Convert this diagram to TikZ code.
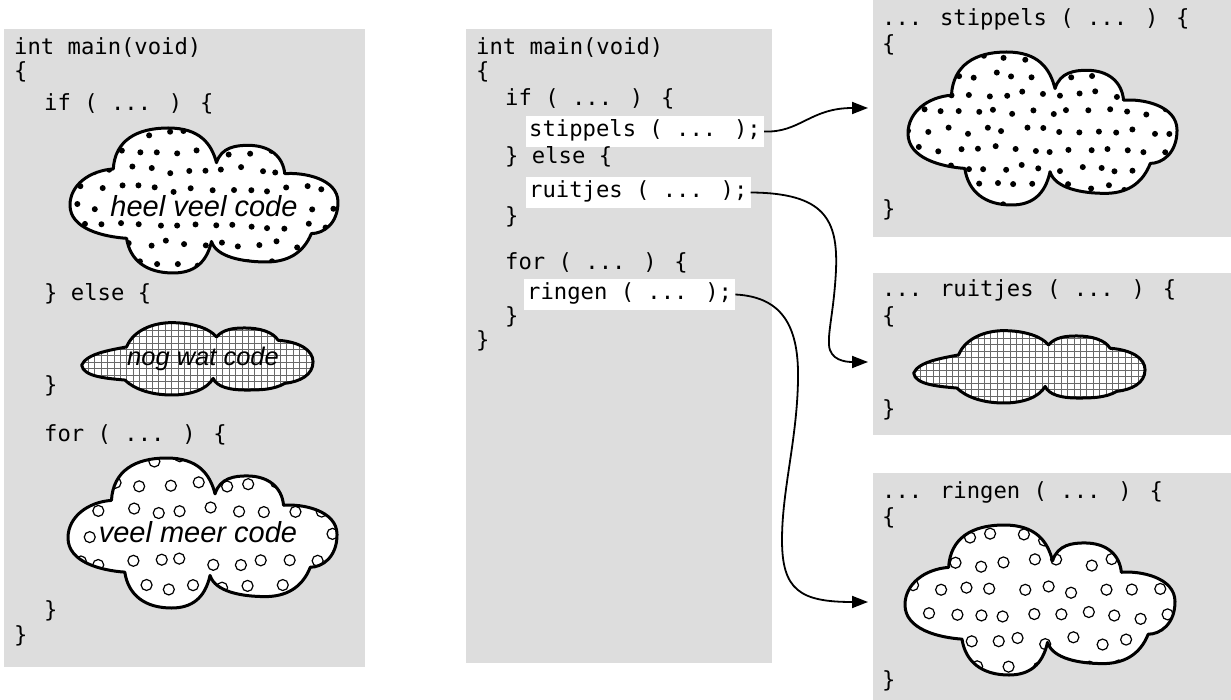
\documentclass[tikz,border=0pt]{standalone}
\usepackage{fontspec}
\newfontfamily\codefamily{DejaVu Sans Mono}
\newfontfamily\notefamily{Liberation Sans}
\usetikzlibrary{arrows.meta}

\definecolor{panelgray}{RGB}{221,221,221}
\definecolor{meshgray}{RGB}{105,105,105}

\newcommand\codesize{\codefamily\fontsize{22.2pt}{24pt}\selectfont}

% cloud outlines in local units (origin = top-left of the bounding box)
\newcommand\bigcloud{(130,130) .. controls (135,40) and (200,0) .. (295,0)
  .. controls (390,0) and (425,50) .. (440,110)
  .. controls (455,60) and (500,55) .. (535,55)
  .. controls (600,55) and (640,90) .. (645,145)
  .. controls (700,140) and (805,160) .. (805,235)
  .. controls (805,305) and (760,335) .. (725,335)
  .. controls (700,400) and (650,425) .. (590,425)
  .. controls (520,425) and (440,410) .. (425,360)
  .. controls (410,430) and (370,460) .. (310,460)
  .. controls (230,460) and (180,420) .. (170,350)
  .. controls (100,345) and (0,320) .. (0,245)
  .. controls (0,180) and (60,135) .. (130,130) -- cycle}
\newcommand\flatcloud{(5,130) .. controls (20,95) and (90,85) .. (140,75)
  .. controls (160,25) and (220,2) .. (275,2)
  .. controls (340,2) and (390,20) .. (410,45)
  .. controls (430,22) and (460,18) .. (495,18)
  .. controls (540,18) and (580,30) .. (595,55)
  .. controls (660,60) and (700,85) .. (700,120)
  .. controls (700,160) and (660,180) .. (615,185)
  .. controls (580,205) and (540,205) .. (495,205)
  .. controls (450,205) and (410,195) .. (400,170)
  .. controls (380,205) and (330,220) .. (275,220)
  .. controls (210,220) and (160,200) .. (135,175)
  .. controls (80,170) and (10,165) .. (5,130) -- cycle}

\tikzset{
  panel/.style={fill=panelgray, draw=none, inner sep=0pt, outer sep=0pt, anchor=north west},
  codeline/.style={anchor=base west, inner sep=0pt, font=\codesize},
  callbox/.style={anchor=base west, fill=white, inner xsep=3pt, inner ysep=0pt,
    text height=21pt, text depth=10pt, font=\codesize},
  link/.style={line width=1.8pt, -{Triangle[length=16pt,width=12pt]}},
  cloudedge/.style={line width=3pt, line join=round},
  stipdot/.style={fill=black},
  ringmark/.style={draw=black, fill=white, line width=1.2pt},
  meshline/.style={draw=meshgray, line width=1pt},
  cloudnote/.style={anchor=base, inner sep=0pt, font=\notefamily\itshape\fontsize{29pt}{30pt}\selectfont},
}

% fillings: scattered dots and open rings (both leave a free band for a label),
% and a square mesh
\newcommand\stipples[7]{%
  \pgfmathsetseed{#3}%
  \foreach \r in {0,...,8}{%
    \foreach \c in {0,...,14}{%
      \pgfmathsetmacro\px{#1+4+\c*18.6+mod(\r,2)*9+4*rand}%
      \pgfmathsetmacro\py{#2+5+\r*18.5+3.5*rand}%
      \pgfmathtruncatemacro\inband{(\px>#4)*(\px<#6)*(\py>#5)*(\py<#7)}%
      \ifnum\inband=0 \fill[stipdot] (\px,\py) circle[radius=3pt];\fi
    }}}
\newcommand\rings[7]{%
  \pgfmathsetseed{#3}%
  \foreach \r in {0,...,7}{%
    \foreach \c in {0,...,10}{%
      \pgfmathsetmacro\px{#1+8+\c*27+mod(\r,2)*13+5*rand}%
      \pgfmathsetmacro\py{#2+12+\r*26+4*rand}%
      \pgfmathtruncatemacro\inband{(\px>#4)*(\px<#6)*(\py>#5)*(\py<#7)}%
      \ifnum\inband=0 \draw[ringmark] (\px,\py) circle[radius=5.5pt];\fi
    }}}
\newcommand\meshfill[4]{%
  \foreach \k in {0,...,37}{%
    \pgfmathsetmacro\gx{#1+2+\k*6.4}%
    \draw[meshline] (\gx,#2) -- (\gx,#4);}
  \foreach \k in {0,...,12}{%
    \pgfmathsetmacro\gy{#2+2+\k*6.4}%
    \draw[meshline] (#1,\gy) -- (#3,\gy);}}

\newcommand\drawcloud[3]{%
  \fill[white,#2] #1;
  \begin{scope}
    \clip[#2] #1;
    #3
  \end{scope}
  \draw[cloudedge,#2] #1;
}

\begin{document}
\begin{tikzpicture}[x=1pt,y=-1pt]
\useasboundingbox (0,0) rectangle (1231,700);

% panels
\node[panel, minimum width=361pt, minimum height=638pt] (left) at (4,29) {};
\node[panel, minimum width=306pt, minimum height=634pt] (mid) at (466,29) {};
\node[panel, minimum width=358pt, minimum height=237pt] (pstip) at (873,0) {};
\node[panel, minimum width=358pt, minimum height=162pt] (pruit) at (873,273) {};
\node[panel, minimum width=358pt, minimum height=227pt] (pring) at (873,473) {};

% left: everything written inline
\node[codeline] (l1) at (14,55) {int main(void)};
\node[codeline] (l2) at (14,79) {\{};
\node[codeline] (l3) at (44,111) {if ( ... ) \{};
\node[codeline] (l4) at (44,301) {\} else \{};
\node[codeline] (l5) at (44,392) {\}};
\node[codeline] (l6) at (44,441) {for ( ... ) \{};
\node[codeline] (l7) at (44,617) {\}};
\node[codeline] (l8) at (14,642) {\}};

\drawcloud{\bigcloud}{shift={(70,128)},xscale=0.3329,yscale=0.3152}{\stipples{70}{128}{5}{108}{194}{300}{221}}
\node[cloudnote] (n1) at (204,217) {heel veel code};

\drawcloud{\flatcloud}{shift={(80,322)},xscale=0.3329,yscale=0.3318}{\meshfill{80}{322}{313}{395}}
\node[cloudnote, font=\notefamily\itshape\fontsize{25.5pt}{27pt}\selectfont] (n2) at (203,366) {nog wat code};

\drawcloud{\bigcloud}{shift={(68,458)},xscale=0.3342,yscale=0.3261}{\rings{68}{446}{9}{92}{520}{304}{552}}
\node[cloudnote] (n3) at (198,542) {veel meer code};

% middle: calls to functions
\node[codeline] (m1) at (476,55) {int main(void)};
\node[codeline] (m2) at (476,79) {\{};
\node[codeline] (m3) at (505,106) {if ( ... ) \{};
\node[callbox] (stip) at (526,137) {stippels ( ... );};
\node[codeline] (m4) at (505,164) {\} else \{};
\node[callbox] (ruit) at (526,198) {ruitjes ( ... );};
\node[codeline] (m5) at (505,224) {\}};
\node[codeline] (m6) at (505,270) {for ( ... ) \{};
\node[callbox] (ring) at (524,300) {ringen ( ... );};
\node[codeline] (m7) at (505,324) {\}};
\node[codeline] (m8) at (476,348) {\}};

% right: the three functions
\node[codeline] (r1) at (882,26) {... stippels ( ... ) \{};
\node[codeline] (r2) at (882,52) {\{};
\node[codeline] (r3) at (882,217) {\}};
\drawcloud{\bigcloud}{shift={(908,52)},xscale=0.3342,yscale=0.3326}{\stipples{908}{52}{11}{0}{0}{0}{0}}

\node[codeline] (s1) at (882,297) {... ruitjes ( ... ) \{};
\node[codeline] (s2) at (882,324) {\{};
\node[codeline] (s3) at (882,416) {\}};
\drawcloud{\flatcloud}{shift={(912,330)},xscale=0.3329,yscale=0.3318}{\meshfill{912}{330}{1145}{403}}

\node[codeline] (t1) at (882,498) {... ringen ( ... ) \{};
\node[codeline] (t2) at (882,524) {\{};
\node[codeline] (t3) at (882,687) {\}};
\drawcloud{\bigcloud}{shift={(905,525)},xscale=0.3354,yscale=0.3261}{\rings{905}{525}{17}{0}{0}{0}{0}}

% calls
\coordinate (inS) at (868,108);
\coordinate (inR) at (868,362);
\coordinate (inG) at (868,602);
\draw[link] (stip.east) .. controls (800,133) and (810,108) .. (inS);
\draw[link] (ruit.east) .. controls (825,193) and (838,220) .. (836,270)
  .. controls (834,310) and (828,330) .. (829,345)
  .. controls (830,360) and (845,362) .. (inR);
\draw[link] (ring.east) .. controls (785,297) and (799,330) .. (798,380)
  .. controls (797,440) and (782,490) .. (782,540)
  .. controls (782,590) and (800,602) .. (inG);
\end{tikzpicture}
\end{document}
